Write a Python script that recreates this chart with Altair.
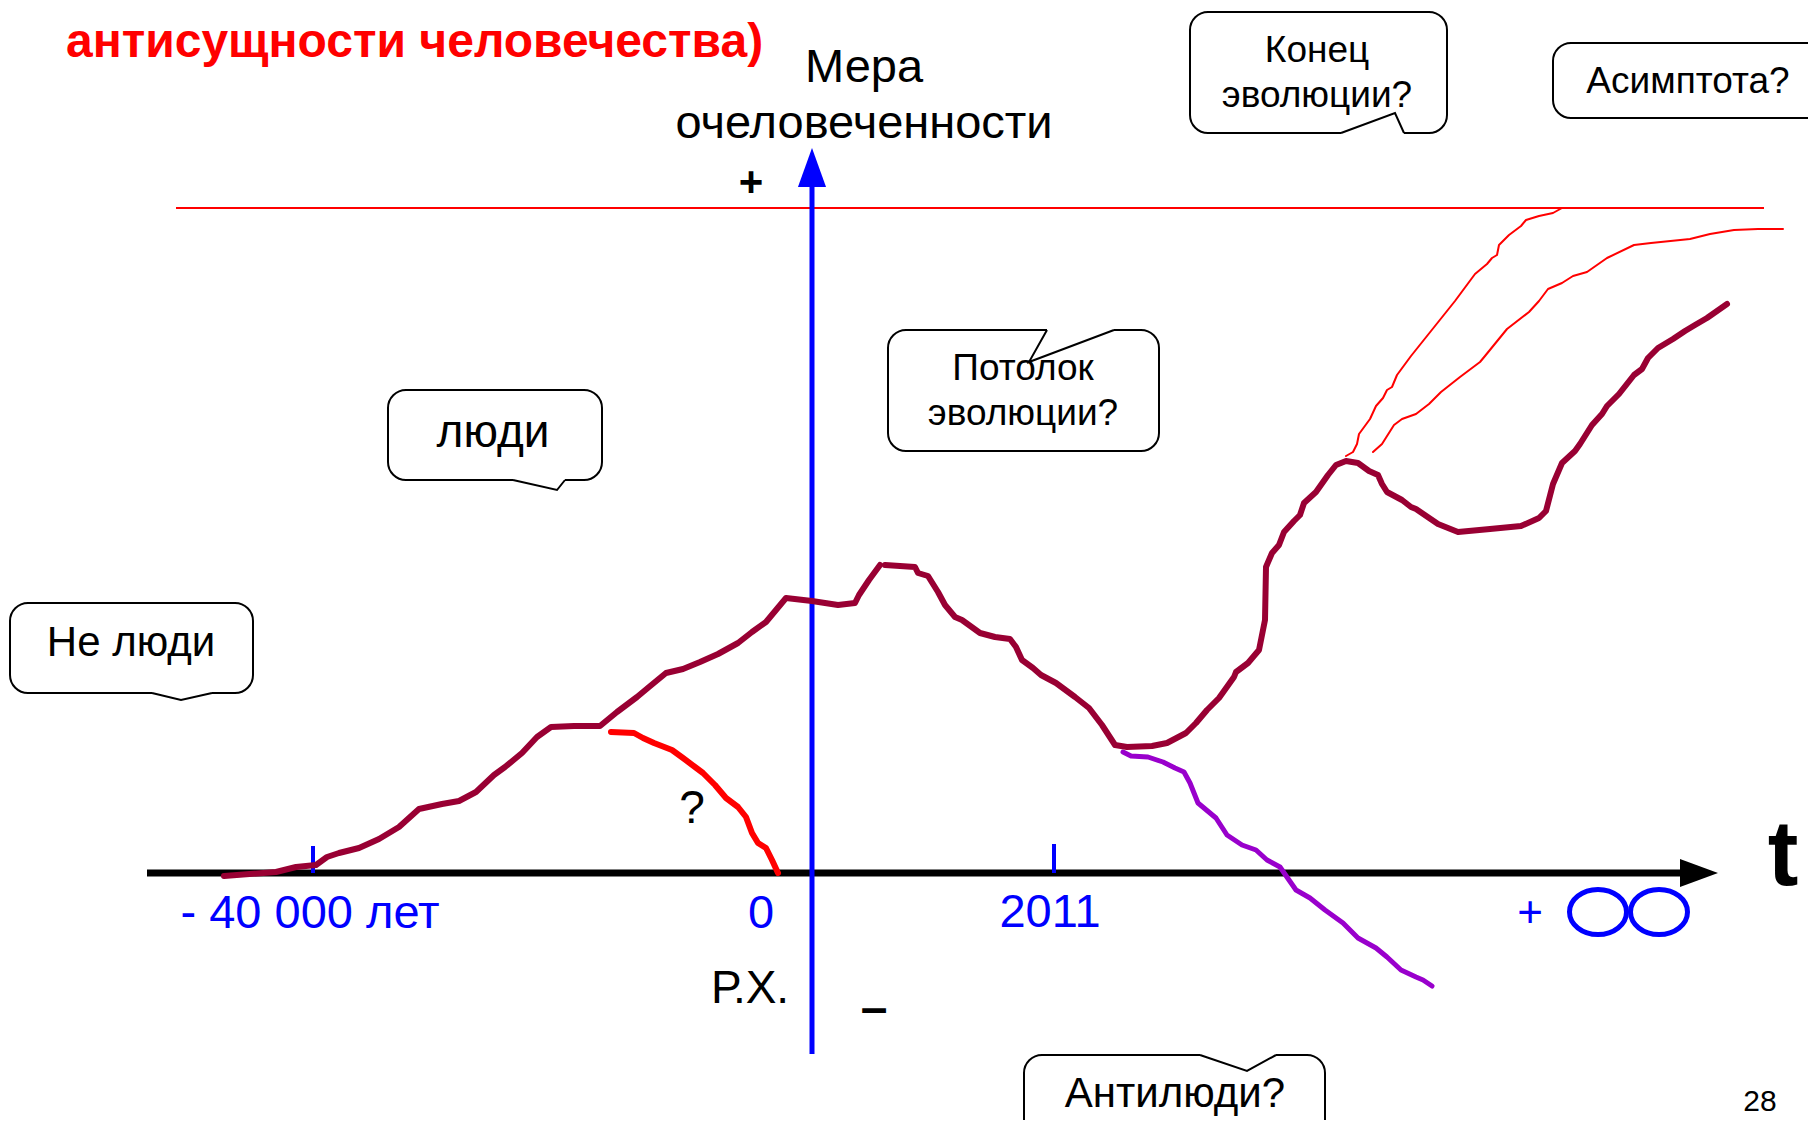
import altair as alt
import pandas as pd

# Coordinate system: t = position on the time axis (0 = vertical axis),
# m = "measure of humanness" (0 = time axis, up is positive)

# ---- curves ----
main1_t = [-588, -536, -516, -496, -485, -473, -453, -433, -413, -393, -370, -353, -336, -318, -307,
           -290, -275, -261, -238, -212, -195, -175, -163, -146, -129, -112, -94, -74, -60, -46,
           -26, 0, 26, 43, 47, 57, 68]
main1_m = [-3, 1, 6, 8, 16, 20, 25, 34, 46, 64, 69, 72, 81, 98, 106,
           120, 136, 146, 147, 147, 161, 176, 186, 200, 204, 211, 219, 230, 241, 251,
           275, 272, 268, 270, 278, 293, 308]

main2_t = [73, 103, 106, 116, 126, 133, 143, 150, 168, 183, 198, 204, 210, 221, 229, 244, 263, 277,
           290, 303, 315, 340, 355, 374, 384, 395, 407, 422, 424, 436, 447, 453, 454, 460, 467, 472,
           482, 488, 492, 504, 516, 524, 534, 546, 557, 566, 570, 575, 590, 599, 604, 626, 646, 678,
           709, 727, 734, 741, 750, 763, 768, 780, 790, 795, 807, 822, 830, 836, 846, 861, 873, 883,
           895, 915]
main2_m = [308, 306, 300, 297, 281, 268, 256, 253, 240, 236, 234, 226, 213, 205, 198, 190, 176, 165,
           148, 128, 126, 127, 130, 140, 150, 163, 175, 196, 201, 210, 223, 253, 306, 320, 328, 341,
           352, 358, 370, 381, 398, 408, 412, 410, 402, 398, 389, 381, 373, 366, 364, 349, 341, 344,
           347, 355, 362, 389, 410, 422, 429, 448, 459, 467, 479, 498, 504, 515, 525, 534, 542, 548,
           555, 569]

fall_t = [-201, -178, -169, -158, -140, -129, -117, -109, -97, -86, -74, -66, -60, -54, -46, -40, -34]
fall_m = [141, 140, 135, 130, 123, 115, 106, 100, 88, 75, 66, 56, 40, 30, 25, 13, 0]

anti_t = [311, 319, 336, 351, 363, 372, 378, 386, 404, 415, 430, 444, 455, 468, 477, 484, 498,
          513, 531, 546, 564, 575, 589, 604, 611, 620]
anti_m = [121, 117, 116, 111, 105, 101, 90, 70, 55, 38, 28, 23, 13, 6, -7, -17, -25,
          -37, -50, -65, -75, -84, -97, -104, -107, -113]

endA_t = [534, 541, 545, 547, 558, 564, 571, 575, 580, 585, 599, 619, 643, 663, 675, 680, 685,
          687, 697, 709, 714, 727, 741, 750, 755]
endA_m = [417, 421, 429, 439, 454, 467, 475, 483, 486, 498, 517, 542, 572, 599, 609, 615, 618,
          628, 638, 647, 653, 657, 660, 665, 665]

asym_t = [561, 570, 582, 590, 604, 617, 629, 648, 668, 673, 695, 717, 727, 736, 750, 761, 775,
          795, 822, 839, 878, 898, 922, 946, 971]
asym_m = [421, 429, 448, 454, 459, 469, 481, 496, 511, 517, 544, 561, 572, 584, 590, 597, 601,
          615, 628, 630, 634, 639, 643, 644, 644]

ceiling_t = [-636, 952]
ceiling_m = 665

# ---- axes ----
time_axis_t = [-665, 868]
measure_axis_m = [-181, 686]
time_ticks_t = [-499, 242]
time_ticks_top = [27, 29]

# ---- callouts: (left, right, top, bottom) and tail (base1, tip, base2) ----
box_names = ["Не люди", "люди", "Потолок", "Конец", "Асимптота", "Антилюди"]
box_t1 = [-802, -424, 76, 378, 741, 212]
box_t2 = [-559, -210, 347, 635, 1020, 513]
box_m1 = [270, 483, 543, 861, 830, -182]
box_m2 = [180, 393, 422, 740, 755, -300]
tail_t = [[-660, -631, -600], [-299, -255, -247], [235, 217, 302], [529, 583, 592], [388, 435, 464]]
tail_m = [[180, 173, 180], [393, 383, 393], [543, 511, 543], [740, 760, 740], [-182, -198, -182]]

# ---- texts ----
txt_normal = ["Мера", "очеловеченности", "Не люди", "люди", "Потолок", "эволюции?", "Конец",
              "эволюции?", "Асимптота?", "Антилюди?", "?", "Р.Х.", "- 40 000 лет", "0", "2011",
              "+", "28"]
txt_normal_t = [52, 52, -681, -319, 211, 211, 505, 505, 876, 363, -120, -62, -502, -51, 238, 718, 948]
txt_normal_m = [791, 735, 217, 426, 493, 448, 811, 766, 780, -234, 50, -130, -55, -55, -54, -54, -238]
txt_normal_fs = [47, 47, 42, 46, 37, 37, 37, 37, 37, 42, 46, 46, 47, 47, 47, 44, 30]
txt_normal_col = ["#000000"] * 12 + ["#0000FF"] * 4 + ["#000000"]

txt_bold = ["+", "–", "t"]
txt_bold_t = [-61, 62, 971]
txt_bold_m = [677, -151, -12]
txt_bold_fs = [42, 48, 92]

title_text = "антисущности человечества)"
title_t = -746
title_m = 816

inf_t = [786, 847]
inf_m = [-39, -39]

# ================= build =================
xs = alt.Scale(domain=[-804, 996], nice=False, zero=False)
ys = alt.Scale(domain=[-247, 865], nice=False, zero=False)
X = lambda f: alt.X(f, type="quantitative", scale=xs, axis=None)
Y = lambda f: alt.Y(f, type="quantitative", scale=ys, axis=None)


def curve(name, ts, ms):
    return pd.DataFrame({"curve": name, "t": ts, "m": ms, "i": list(range(len(ts)))})


def line_layer(df, color, width):
    return alt.Chart(df).mark_line(color=color, strokeWidth=width, strokeCap="round",
                                   strokeJoin="round").encode(
        x=X("t"), y=Y("m"), detail="curve:N", order="i:Q")


maroon = pd.concat([curve("a", main1_t, main1_m), curve("b", main2_t, main2_m)])
layers = []

# ceiling line
layers.append(alt.Chart(pd.DataFrame({"t1": [ceiling_t[0]], "t2": [ceiling_t[1]], "m": [ceiling_m]}))
              .mark_rule(color="#FF0000", strokeWidth=2)
              .encode(x=X("t1"), x2="t2", y=Y("m")))

# axes
layers.append(alt.Chart(pd.DataFrame({"t1": [time_axis_t[0]], "t2": [time_axis_t[1]], "m": [0]}))
              .mark_rule(color="#000000", strokeWidth=7)
              .encode(x=X("t1"), x2="t2", y=Y("m")))
layers.append(alt.Chart(pd.DataFrame({"t": [0], "m1": [measure_axis_m[0]], "m2": [measure_axis_m[1]]}))
              .mark_rule(color="#0000FF", strokeWidth=5)
              .encode(x=X("t"), y=Y("m1"), y2="m2"))
layers.append(alt.Chart(pd.DataFrame({"t": time_ticks_t, "m1": [0, 0], "m2": time_ticks_top}))
              .mark_rule(color="#0000FF", strokeWidth=4)
              .encode(x=X("t"), y=Y("m1"), y2="m2"))
# arrow heads
layers.append(alt.Chart(pd.DataFrame({"t": [887], "m": [0]}))
              .mark_point(shape="M -1 -0.737 L 1 0 L -1 0.737 Z", size=1444, filled=True,
                          color="#000000", opacity=1, strokeWidth=0)
              .encode(x=X("t"), y=Y("m")))
layers.append(alt.Chart(pd.DataFrame({"t": [0], "m": [705.5]}))
              .mark_point(shape="M -0.72 1 L 0 -1 L 0.72 1 Z", size=1521, filled=True,
                          color="#0000FF", opacity=1, strokeWidth=0)
              .encode(x=X("t"), y=Y("m")))

# curves
layers.append(line_layer(curve("f", fall_t, fall_m), "#FF0000", 6))
layers.append(line_layer(curve("p", anti_t, anti_m), "#9900CC", 5))
layers.append(line_layer(pd.concat([curve("A", endA_t, endA_m), curve("B", asym_t, asym_m)]),
                         "#FF0000", 2))
layers.append(line_layer(maroon, "#990033", 6))

# infinity sign
ell = ("M -1 0 C -1 -0.436 -0.552 -0.79 0 -0.79 C 0.552 -0.79 1 -0.436 1 0 "
       "C 1 0.436 0.552 0.79 0 0.79 C -0.552 0.79 -1 0.436 -1 0 Z")
layers.append(alt.Chart(pd.DataFrame({"t": inf_t, "m": inf_m}))
              .mark_point(shape=ell, size=3249, filled=False, stroke="#0000FF", strokeWidth=5,
                          opacity=1)
              .encode(x=X("t"), y=Y("m")))

# callout boxes
boxes = pd.DataFrame({"name": box_names, "t1": box_t1, "t2": box_t2, "m1": box_m1, "m2": box_m2})
layers.append(alt.Chart(boxes).mark_rect(fill="#FFFFFF", stroke="#000000", strokeWidth=2,
                                         cornerRadius=18)
              .encode(x=X("t1"), x2="t2", y=Y("m1"), y2="m2"))
gaps = pd.DataFrame({"t1": [tt[0] for tt in tail_t], "t2": [tt[2] for tt in tail_t],
                     "m1": [mm[0] for mm in tail_m], "m2": [mm[2] for mm in tail_m]})
layers.append(alt.Chart(gaps).mark_rule(color="#FFFFFF", strokeWidth=5)
              .encode(x=X("t1"), x2="t2", y=Y("m1"), y2="m2"))
tails = pd.concat([curve("tail%d" % k, tail_t[k], tail_m[k]) for k in range(len(tail_t))])
layers.append(alt.Chart(tails).mark_line(color="#000000", strokeWidth=2, strokeJoin="miter")
              .encode(x=X("t"), y=Y("m"), detail="curve:N", order="i:Q"))

# texts
tn = pd.DataFrame({"txt": txt_normal, "t": txt_normal_t, "m": txt_normal_m,
                   "fs": txt_normal_fs, "col": txt_normal_col})
layers.append(alt.Chart(tn).mark_text(font="Liberation Sans", baseline="alphabetic", align="center")
              .encode(x=X("t"), y=Y("m"), text="txt:N",
                      size=alt.Size("fs:Q", scale=None), color=alt.Color("col:N", scale=None)))
tb = pd.DataFrame({"txt": txt_bold, "t": txt_bold_t, "m": txt_bold_m, "fs": txt_bold_fs})
layers.append(alt.Chart(tb).mark_text(font="Liberation Sans", fontWeight="bold",
                                      baseline="alphabetic", align="center", color="#000000")
              .encode(x=X("t"), y=Y("m"), text="txt:N", size=alt.Size("fs:Q", scale=None)))
tt = pd.DataFrame({"txt": [title_text], "t": [title_t], "m": [title_m]})
layers.append(alt.Chart(tt).mark_text(font="Liberation Sans", fontWeight="bold", fontSize=48,
                                      baseline="alphabetic", align="left", color="#FF0000")
              .encode(x=X("t"), y=Y("m"), text="txt:N"))

chart = alt.layer(*layers).properties(
    width=1800, height=1112,
    autosize=alt.AutoSizeParams(type="none"),
    padding=0,
    background="#FFFFFF",
).configure_view(stroke=None)

chart.save("out.html", embed_options={"renderer": "svg", "actions": False})
